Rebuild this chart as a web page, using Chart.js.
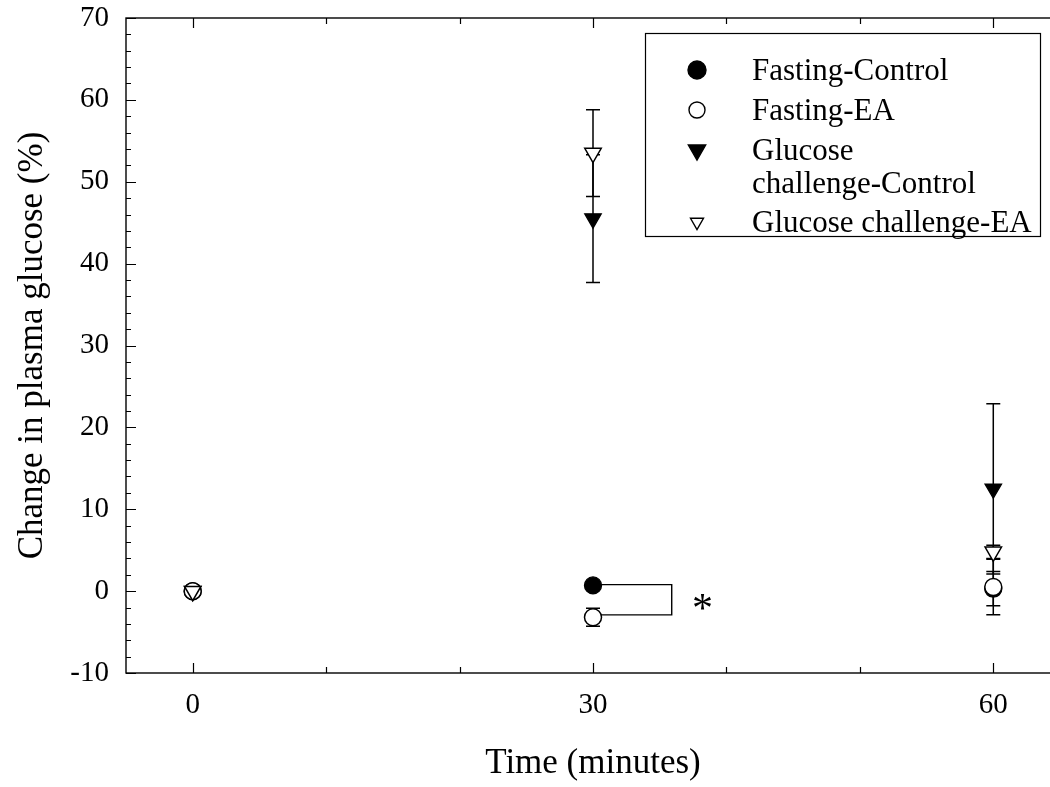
<!DOCTYPE html>
<html>
<head>
<meta charset="utf-8">
<script src="https://cdn.jsdelivr.net/npm/chart.js@4/dist/chart.umd.min.js"></script>
<style>
  html, body { margin: 0; padding: 0; background: #fff; overflow: hidden; }
  #wrap { width: 1071px; height: 787px; }
</style>
</head>
<body>
<div id="wrap"><canvas id="c" width="1071" height="787"></canvas></div>
<script>
// ---- Data ----
const timePoints = [0, 30, 60];
const fastingControl = [0, 0.7, 0.3];
const fastingControlErr = [0, 0.3, 2.1];
const fastingEA = [0, -3.2, 0.5];
const fastingEAErr = [0, 1.1, 3.4];
const glucoseControl = [0, 45.5, 12.5];
const glucoseControlErr = [0, 7.8, 10.4];
const glucoseEA = [0, 53.5, 4.8];
const glucoseEAErr = [0, 5.3, 0.8];
const xTickValues = [0, 30, 60];
const yTickValues = [-10, 0, 10, 20, 30, 40, 50, 60, 70];
// significance bracket at 30 min: [xStart, xEnd, yTop, yBottom], star at [x, y]
const sigBracket = [30, 35.9, 0.8, -2.9];
const sigStar = [38.2, -1.2, '*'];
const legendLabels = [['Fasting-Control'], ['Fasting-EA'], ['Glucose', 'challenge-Control'], ['Glucose challenge-EA']];

const FONT = "'Liberation Serif', 'Times New Roman', serif";

function pts(ys) { return timePoints.map((t, i) => ({ x: t, y: ys[i] })); }

const datasets = [
  { label: 'Fasting-Control', data: pts(fastingControl), err: fastingControlErr,
    pointStyle: 'circle', rotation: 0, pointRadius: 8.5, backgroundColor: '#000', borderColor: '#000', borderWidth: 1.3, order: 3 },
  { label: 'Fasting-EA', data: pts(fastingEA), err: fastingEAErr,
    pointStyle: 'circle', rotation: 0, pointRadius: 8.5, backgroundColor: '#fff', borderColor: '#000', borderWidth: 1.5, order: 1 },
  { label: 'Glucose challenge-Control', data: pts(glucoseControl), err: glucoseControlErr,
    pointStyle: 'triangle', rotation: 180, pointRadius: 9.5, backgroundColor: '#000', borderColor: '#000', borderWidth: 1.3, order: 2 },
  { label: 'Glucose challenge-EA', data: pts(glucoseEA), err: glucoseEAErr,
    pointStyle: 'triangle', rotation: 180, pointRadius: 9.5, backgroundColor: '#fff', borderColor: '#000', borderWidth: 1.5, order: 0 }
];
datasets.forEach(d => { d.showLine = false; d.pointHoverRadius = d.pointRadius; });

const errorBars = {
  id: 'errorBars',
  beforeDatasetsDraw(chart) {
    const { ctx, scales: { x, y } } = chart;
    ctx.save();
    ctx.strokeStyle = '#000';
    ctx.lineWidth = 1.5;
    chart.data.datasets.forEach(ds => {
      ds.data.forEach((p, i) => {
        const e = ds.err[i];
        if (!e) return;
        const px = x.getPixelForValue(p.x);
        const yt = y.getPixelForValue(p.y + e);
        const yb = y.getPixelForValue(p.y - e);
        ctx.beginPath();
        ctx.moveTo(px, yt); ctx.lineTo(px, yb);
        ctx.moveTo(px - 7, yt); ctx.lineTo(px + 7, yt);
        ctx.moveTo(px - 7, yb); ctx.lineTo(px + 7, yb);
        ctx.stroke();
      });
    });
    // significance bracket
    const x0 = x.getPixelForValue(sigBracket[0]) + 8;
    const x1 = x.getPixelForValue(sigBracket[1]);
    const yT = y.getPixelForValue(sigBracket[2]);
    const yB = y.getPixelForValue(sigBracket[3]);
    ctx.lineWidth = 1.4;
    ctx.beginPath();
    ctx.moveTo(x0, yT); ctx.lineTo(x1, yT); ctx.lineTo(x1, yB); ctx.lineTo(x0, yB);
    ctx.stroke();
    ctx.fillStyle = '#000';
    ctx.font = '42px ' + FONT;
    ctx.textAlign = 'center';
    ctx.textBaseline = 'middle';
    ctx.fillText(sigStar[2], x.getPixelForValue(sigStar[0]), y.getPixelForValue(sigStar[1]) + 10);
    ctx.restore();
  }
};

const frameTicks = {
  id: 'frameTicks',
  afterDraw(chart) {
    const { ctx, chartArea: a, scales: { x, y } } = chart;
    ctx.save();
    ctx.strokeStyle = '#000';
    ctx.lineWidth = 1.4;
    ctx.strokeRect(a.left, a.top, a.right - a.left, a.bottom - a.top);
    ctx.lineWidth = 1.2;
    ctx.beginPath();
    for (let v = -10; v <= 70; v += 2) {
      const py = Math.round(y.getPixelForValue(v)) + 0.5;
      const len = (v % 10 === 0) ? 10 : 5;
      ctx.moveTo(a.left, py); ctx.lineTo(a.left + len, py);
      ctx.moveTo(a.right, py); ctx.lineTo(a.right - len, py);
    }
    for (let v = 0; v <= 60; v += 10) {
      const px = Math.round(x.getPixelForValue(v)) + 0.5;
      const len = (v % 30 === 0) ? 10 : 6;
      ctx.moveTo(px, a.bottom); ctx.lineTo(px, a.bottom - len);
      ctx.moveTo(px, a.top); ctx.lineTo(px, a.top + len);
    }
    ctx.stroke();

    // legend
    const bx = 645.5, by = 33.5, bw = 395, bh = 203;
    ctx.lineWidth = 1.2;
    ctx.fillStyle = '#fff';
    ctx.fillRect(bx, by, bw, bh);
    ctx.strokeRect(bx, by, bw, bh);
    ctx.font = '31px ' + FONT;
    ctx.textAlign = 'left';
    ctx.textBaseline = 'middle';
    const rows = [70, 110, 150, 222];
    const markerX = 697, textX = 752;
    chart.data.datasets.forEach((ds, i) => {
      const cy = rows[i];
      ctx.lineWidth = 1.4;
      ctx.strokeStyle = '#000';
      ctx.fillStyle = ds.backgroundColor;
      ctx.beginPath();
      if (ds.pointStyle === 'circle') {
        ctx.arc(markerX, cy, i === 0 ? 9 : 8, 0, Math.PI * 2);
      } else {
        const r = i === 2 ? 10 : 7.5;
        ctx.moveTo(markerX - r * 0.866, cy - r * 0.5);
        ctx.lineTo(markerX + r * 0.866, cy - r * 0.5);
        ctx.lineTo(markerX, cy + r);
        ctx.closePath();
      }
      ctx.fill();
      ctx.stroke();
      ctx.fillStyle = '#000';
      legendLabels[i].forEach((line, k) => ctx.fillText(line, textX, cy + 2 + k * 33));
    });
    ctx.restore();
  }
};

new Chart(document.getElementById('c'), {
  type: 'scatter',
  data: { datasets },
  plugins: [errorBars, frameTicks],
  options: {
    responsive: false,
    animation: false,
    layout: { padding: { left: 0, right: 0, top: 18, bottom: 0 } },
    plugins: { legend: { display: false }, tooltip: { enabled: false } },
    elements: { point: { hitRadius: 0 } },
    scales: {
      x: {
        type: 'linear', min: -5, max: 65,
        afterFit(s) { s.height = 114; s.paddingLeft = 0; s.paddingRight = 0; },
        afterBuildTicks(s) { s.ticks = xTickValues.map(v => ({ value: v })); },
        grid: { display: false, drawTicks: false },
        border: { display: false },
        ticks: { padding: 15, color: '#000', font: { family: FONT, size: 29 } },
        title: { display: true, text: 'Time (minutes)', color: '#000', font: { family: FONT, size: 35 }, padding: { top: 0, bottom: 2 } }
      },
      y: {
        type: 'linear', min: -10, max: 70,
        afterFit(s) { s.width = 126; s.paddingTop = 0; s.paddingBottom = 0; },
        afterBuildTicks(s) { s.ticks = yTickValues.map(v => ({ value: v })); },
        grid: { display: false, drawTicks: false },
        border: { display: false },
        ticks: { padding: 17, color: '#000', font: { family: FONT, size: 29 } },
        title: { display: true, text: 'Change in plasma glucose (%)', color: '#000', font: { family: FONT, size: 35 }, padding: { top: 12, bottom: 0 } }
      }
    }
  }
});
</script>
</body>
</html>
